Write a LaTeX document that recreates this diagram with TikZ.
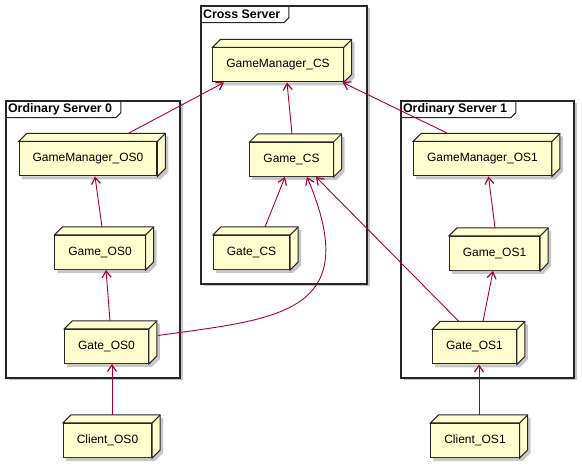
\documentclass[tikz,border=0pt]{standalone}
\usepackage{fontspec}
\setmainfont{Liberation Sans}
\usetikzlibrary{arrows.meta,shadows}
\definecolor{nodefill}{HTML}{FEFECE}
\definecolor{linkred}{HTML}{A80036}
\definecolor{inkgray}{HTML}{262626}

\newcommand{\boxfaces}[1]{%
\fill[black!22] ([xshift=8pt,yshift=5pt]#1.north east) -- ([xshift=11pt,yshift=5pt]#1.north east) -- ([xshift=11pt,yshift=5pt]#1.south east) -- ([xshift=3pt,yshift=-3pt]#1.south east) -- ([xshift=3pt,yshift=-3pt]#1.south west) -- ([xshift=3pt]#1.south west) -- (#1.south east) -- ([xshift=8pt,yshift=8pt]#1.south east) -- cycle;
\filldraw[boxface] (#1.north west) -- ([xshift=8pt,yshift=8pt]#1.north west) -- ([xshift=8pt,yshift=8pt]#1.north east) -- ([xshift=8pt,yshift=8pt]#1.south east) -- (#1.south east) -- (#1.north east) -- cycle;
\draw[boxface] (#1.north east) -- ([xshift=8pt,yshift=8pt]#1.north east);}
\newcommand{\frametab}[1]{%
\draw[tabline] (#1.south west) -- ([xshift=1pt]#1.south east) -- ([xshift=6pt,yshift=5pt]#1.south east) -- ([xshift=6pt]#1.north east);}

\begin{document}
\begin{tikzpicture}[x=1pt,y=-1pt,
  box/.style={draw=inkgray, fill=nodefill, line width=1pt, minimum height=34pt, inner xsep=13.5pt, inner ysep=0pt, font=\fontsize{12}{14}\selectfont},
  boxface/.style={draw=inkgray, fill=nodefill, line width=1pt},
  frame/.style={draw=inkgray, fill=white, line width=1.3pt, inner sep=0pt, drop shadow={shadow xshift=2.5pt, shadow yshift=-2.5pt, fill=black!22, opacity=1}},
  tab/.style={anchor=north west, inner xsep=2.5pt, inner ysep=0pt, minimum height=17pt, font=\fontsize{12.4}{14}\selectfont\bfseries},
  tabline/.style={draw=inkgray, line width=1pt},
  link/.style={draw=linkred, line width=0.9pt, -{Straight Barb[length=6.5pt,width=9pt,line width=1.2pt]}}]
\useasboundingbox (0,0) rectangle (582,465);

\node[frame, minimum width=166pt, minimum height=278pt] (crossframe) at (284,145) {};
\node[tab] (crosstitle) at (crossframe.north west) {Cross Server};
\frametab{crosstitle}
\node[frame, minimum width=174pt, minimum height=277pt] (osframe0) at (93,239.5) {};
\node[tab] (ostitle0) at (osframe0.north west) {Ordinary Server 0};
\frametab{ostitle0}
\node[frame, minimum width=173pt, minimum height=277pt] (osframe1) at (487.5,239.5) {};
\node[tab] (ostitle1) at (osframe1.north west) {Ordinary Server 1};
\frametab{ostitle1}

\node[box] (gmcs) at (278,65) {GameManager\_CS};
\boxfaces{gmcs}
\node[box] (gamecs) at (291.5,159.5) {Game\_CS};
\boxfaces{gamecs}
\node[box] (gatecs) at (251.5,252.5) {Gate\_CS};
\boxfaces{gatecs}
\node[box] (gmos0) at (88,159) {GameManager\_OS0};
\boxfaces{gmos0}
\node[box] (gameos0) at (100,252.5) {Game\_OS0};
\boxfaces{gameos0}
\node[box] (gateos0) at (106.5,346.5) {Gate\_OS0};
\boxfaces{gateos0}
\node[box] (clientos0) at (107.5,440.5) {Client\_OS0};
\boxfaces{clientos0}
\node[box] (gmos1) at (482.5,159) {GameManager\_OS1};
\boxfaces{gmos1}
\node[box] (gameos1) at (494.5,253.5) {Game\_OS1};
\boxfaces{gameos1}
\node[box] (gateos1) at (474.5,347) {Gate\_OS1};
\boxfaces{gateos1}
\node[box] (clientos1) at (475,440.5) {Client\_OS1};
\boxfaces{clientos1}

\draw[link] ([xshift=40pt,yshift=8pt]gmos0.north) -- ([xshift=-54pt]gmcs.south);
\draw[link] ([xshift=2pt,yshift=8pt]gameos0.north) -- ([xshift=7pt]gmos0.south);
\draw[link] ([xshift=3.5pt,yshift=8pt]gateos0.north) -- ([xshift=6pt]gameos0.south);
\draw[link] ([xshift=4.5pt,yshift=8pt]clientos0.north) -- ([xshift=5.5pt]gateos0.south);
\draw[link] ([xshift=9pt,yshift=11pt]gateos0.east) to[out=8,in=-67,out distance=120pt,in distance=150pt] ([xshift=15.5pt]gamecs.south);
\draw[link] ([xshift=0.5pt,yshift=8pt]gamecs.north) -- ([xshift=9pt]gmcs.south);
\draw[link] ([xshift=13.5pt,yshift=8pt]gatecs.north) -- ([xshift=-6.5pt]gamecs.south);
\draw[link] ([xshift=-34.5pt,yshift=8pt]gmos1.north) -- ([xshift=-1pt]gmcs.south east);
\draw[link] ([xshift=0.5pt,yshift=8pt]gameos1.north) -- ([xshift=6pt]gmos1.south);
\draw[link] ([xshift=8.5pt,yshift=8pt]gateos1.north) -- ([xshift=-1.5pt]gameos1.south);
\draw[link] ([xshift=-15.5pt,yshift=8pt]gateos1.north) -- ([xshift=24.5pt]gamecs.south);
\draw[link] ([xshift=4pt,yshift=8pt]clientos1.north) -- ([xshift=4.5pt]gateos1.south);
\end{tikzpicture}
\end{document}
